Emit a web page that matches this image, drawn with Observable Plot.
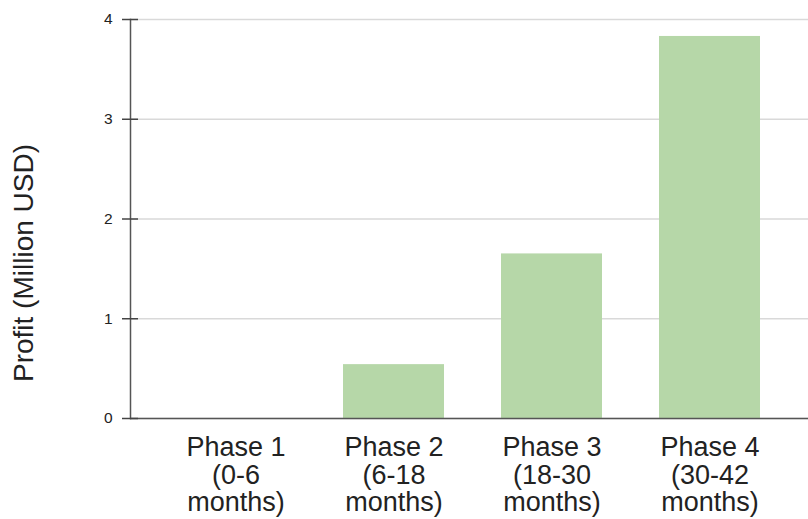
<!DOCTYPE html>
<html>
<head>
<meta charset="utf-8">
<script src="https://cdn.jsdelivr.net/npm/d3@7"></script>
<script src="https://cdn.jsdelivr.net/npm/@observablehq/plot@0.6"></script>
<style>
  html, body { margin: 0; padding: 0; background: #fff; }
  #chart svg { display: block; }
</style>
</head>
<body>
<div id="chart"></div>
<script>
const phases = ["Phase 1", "Phase 2", "Phase 3", "Phase 4"];
const periods = ["(0-6\nmonths)", "(6-18\nmonths)", "(18-30\nmonths)", "(30-42\nmonths)"];
const profits = [0, 0.54, 1.65, 3.83];
const yTicks = [0, 1, 2, 3, 4];
const yLabel = "Profit (Million USD)";

const data = phases.map((p, i) => ({phase: p, period: periods[i], profit: profits[i]}));
const labelOf = Object.fromEntries(phases.map((p, i) => [p, p + "\n" + periods[i]]));

const font = "'Liberation Sans', Arial, sans-serif";

const chart = Plot.plot({
  width: 808,
  height: 519,
  marginLeft: 130,
  marginRight: 0,
  marginTop: 19,
  marginBottom: 101,
  style: {fontFamily: font, background: "#fff", color: "#222"},
  x: {domain: phases, paddingInner: 0.36, paddingOuter: 0.32, align: 0.53},
  y: {domain: [0, 4]},
  marks: [
    Plot.gridY(yTicks, {stroke: "#d9d9d9", strokeOpacity: 1, strokeWidth: 1.5}),
    Plot.barY(data, {x: "phase", y: "profit", fill: "#b6d7a8"}),
    Plot.ruleY([0], {stroke: "#555", strokeWidth: 1.5}),
    Plot.frame({anchor: "left", stroke: "#555", strokeWidth: 1.5}),
    Plot.axisY(yTicks, {tickSize: 16, dx: 8, text: null, label: null, stroke: "#444", strokeWidth: 1.5}),
    Plot.axisY(yTicks, {tickSize: 0, tickPadding: 18, fontSize: 15.5, fill: "#222", label: null,
      tickFormat: d3.format("d")}),
    Plot.axisX({tickSize: 0, tickPadding: 18, fontSize: 27, lineHeight: 1.02, fill: "#222", label: null,
      tickFormat: (d) => labelOf[d]}),
    Plot.text([yLabel], {frameAnchor: "left", textAnchor: "middle", rotate: -90, dx: -106, dy: 44, fontSize: 28, fill: "#222"})
  ]
});
document.getElementById("chart").append(chart);
</script>
</body>
</html>
